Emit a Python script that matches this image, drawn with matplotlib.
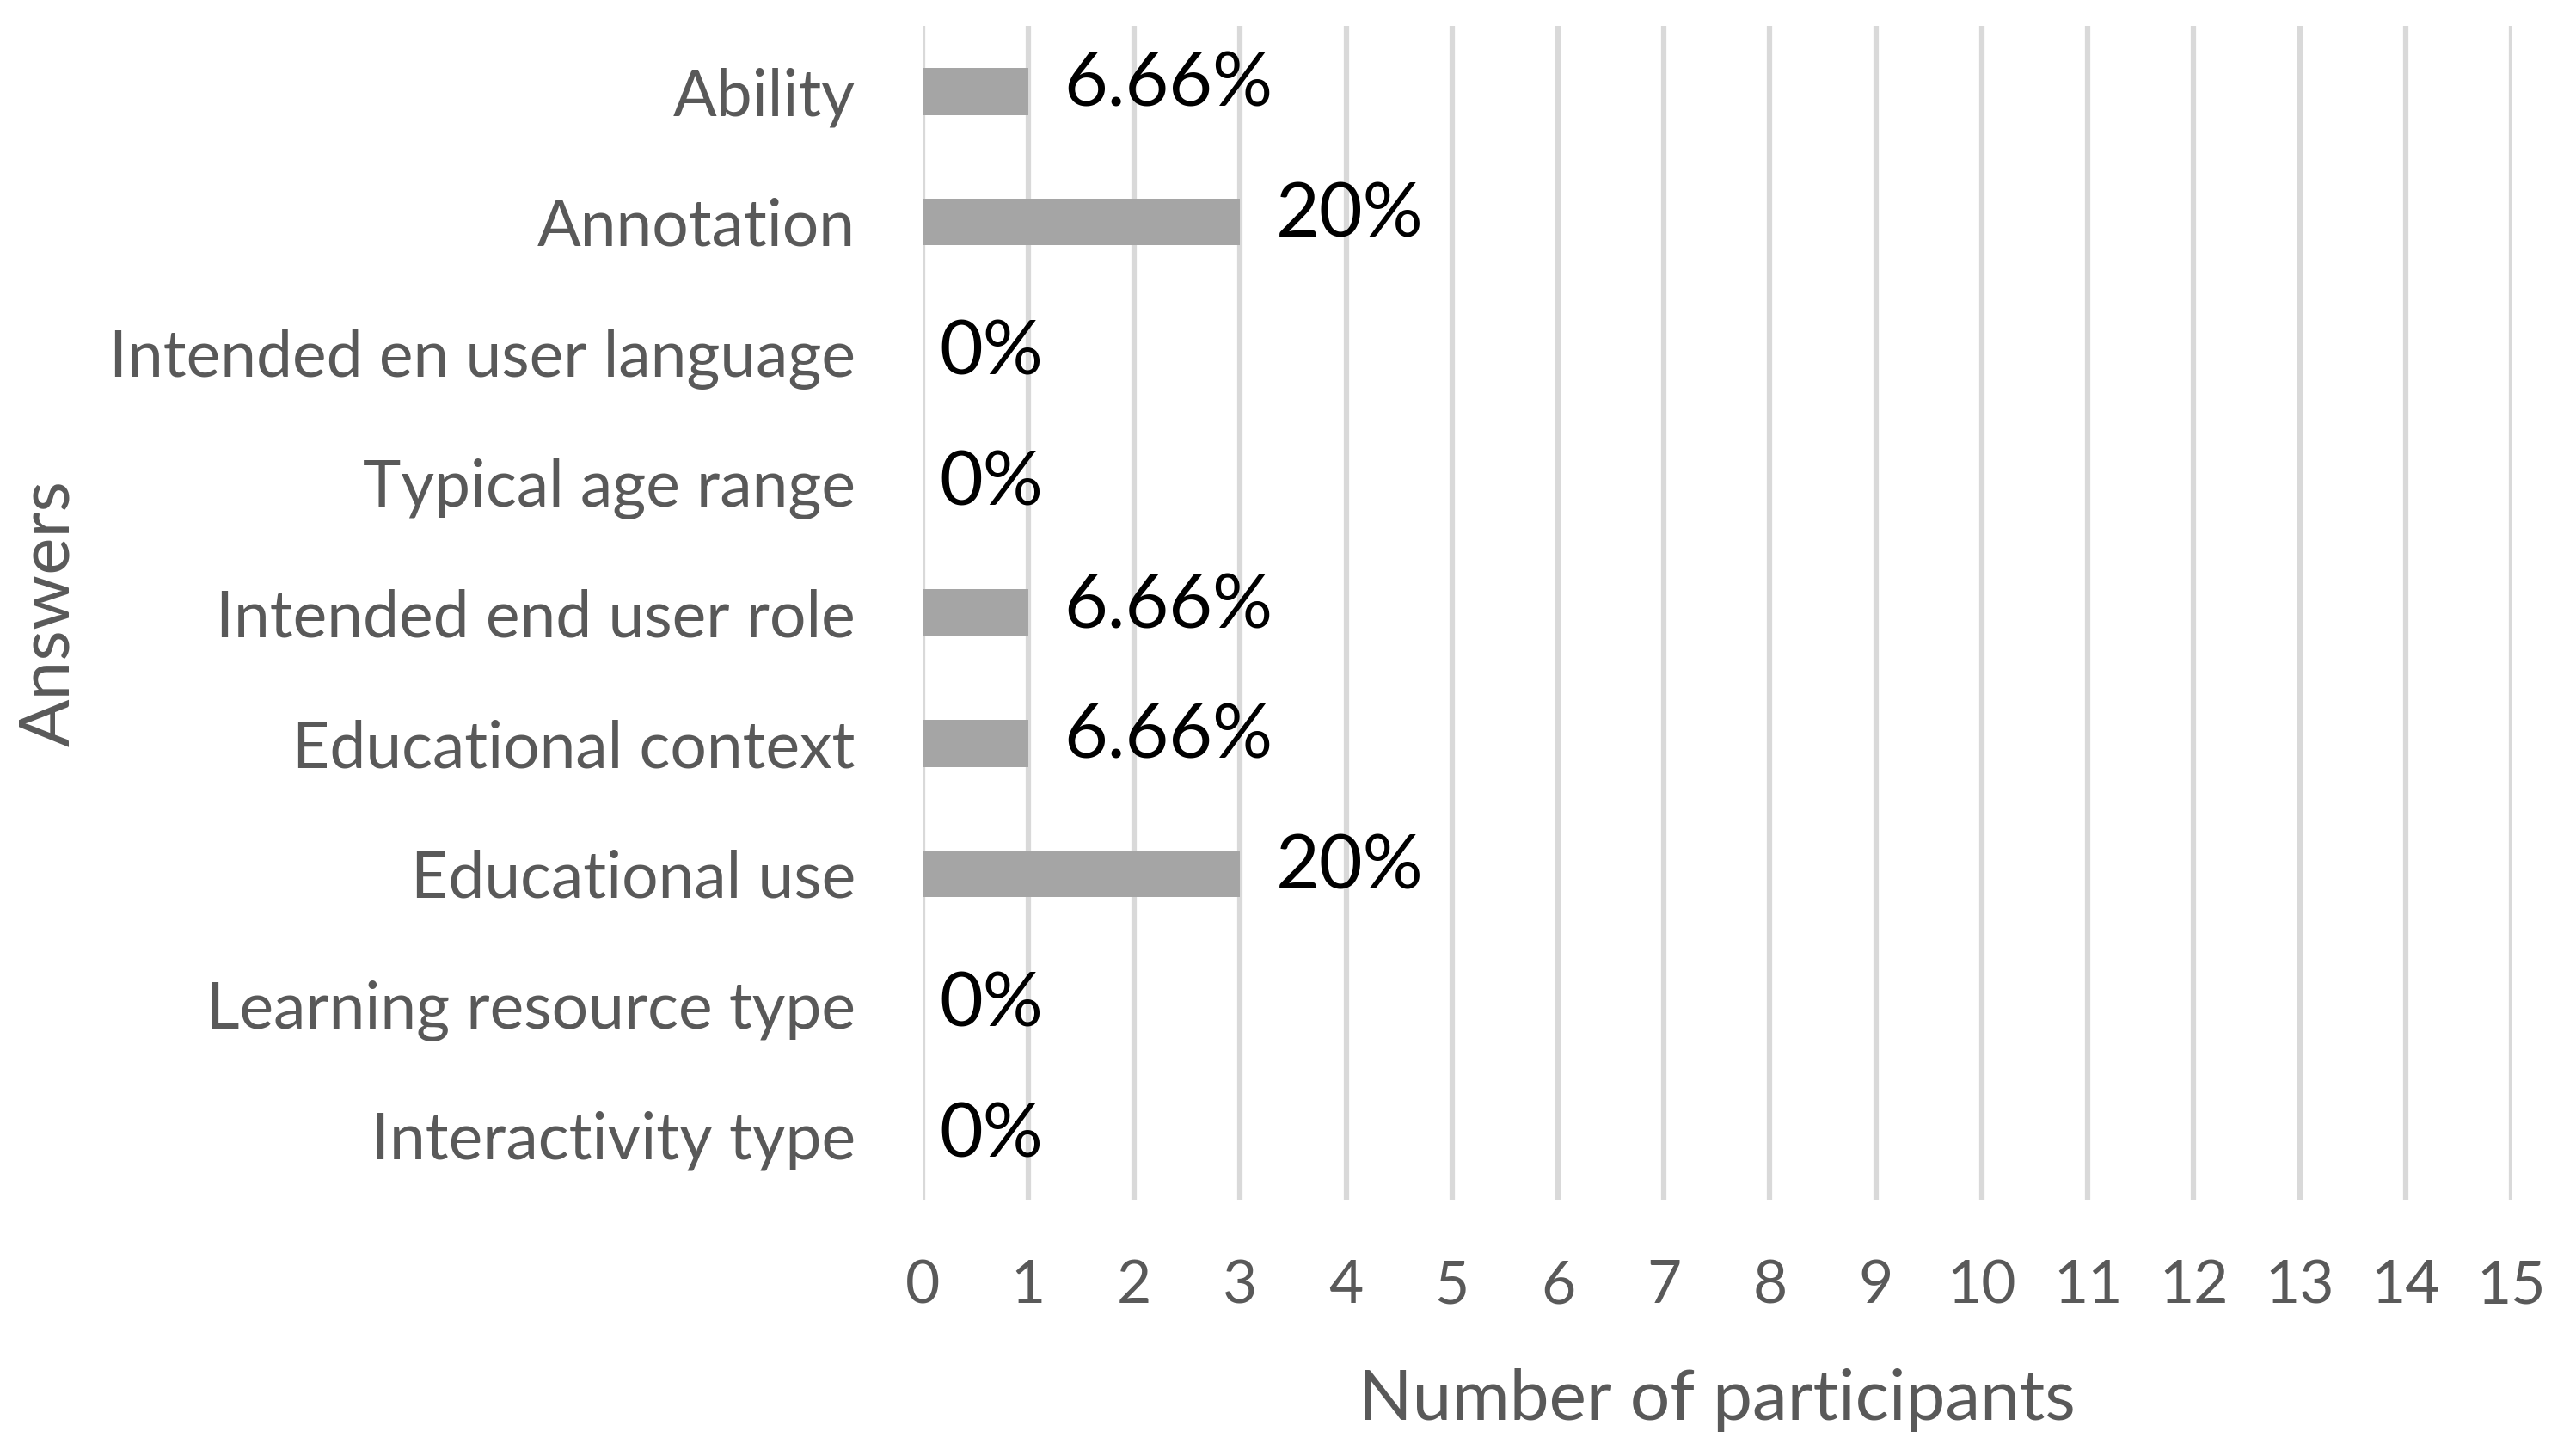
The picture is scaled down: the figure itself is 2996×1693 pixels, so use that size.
import numpy as np
import matplotlib.pyplot as plt

answers = ['Ability', 'Annotation', 'Intended en user language', 'Typical age range',
           'Intended end user role', 'Educational context', 'Educational use',
           'Learning resource type', 'Interactivity type']
participants = [1, 3, 0, 0, 1, 1, 3, 0, 0]
percent_labels = ['6.66%', '20%', '0%', '0%', '6.66%', '6.66%', '20%', '0%', '0%']
x_ticks = list(range(0, 16))

plt.rcParams['font.family'] = ['Lato', 'DejaVu Sans']

fig = plt.figure(figsize=(29.96, 16.93), dpi=100)
ax = fig.add_axes([0.358, 0.176, 0.617, 0.806])

y = np.arange(len(answers))
ax.barh(y, participants, height=0.36, color='#A5A5A5', zorder=3)

for yi, val, lab in zip(y, participants, percent_labels):
    # labels on empty bars sit closer to the axis and a bit lower
    dx, dy = (30, 5) if val > 0 else (14, -1)
    ax.annotate(lab, xy=(val, yi), xytext=(dx, dy), textcoords='offset points',
                ha='left', va='center', fontsize=63, color='black', zorder=4)

ax.set_xlim(0, 15)
ax.set_ylim(len(answers) - 0.5, -0.5)
ax.set_xticks(x_ticks)
ax.set_yticks(y)
ax.set_yticklabels(answers)
ax.tick_params(axis='x', length=0, pad=50, labelsize=50, labelcolor='#595959')
ax.tick_params(axis='y', length=0, pad=56, labelsize=54, labelcolor='#595959')
ax.grid(axis='x', color='#D9D9D9', linewidth=4.5, zorder=0)
for s in ax.spines.values():
    s.set_visible(False)

ax.set_xlabel('Number of participants', fontsize=59, color='#595959', labelpad=46)
fig.text(0.019, 0.176 + 0.806 / 2, 'Answers', rotation=90, ha='center', va='center',
         fontsize=59, color='#595959')

fig.savefig('out.png', dpi=100)
